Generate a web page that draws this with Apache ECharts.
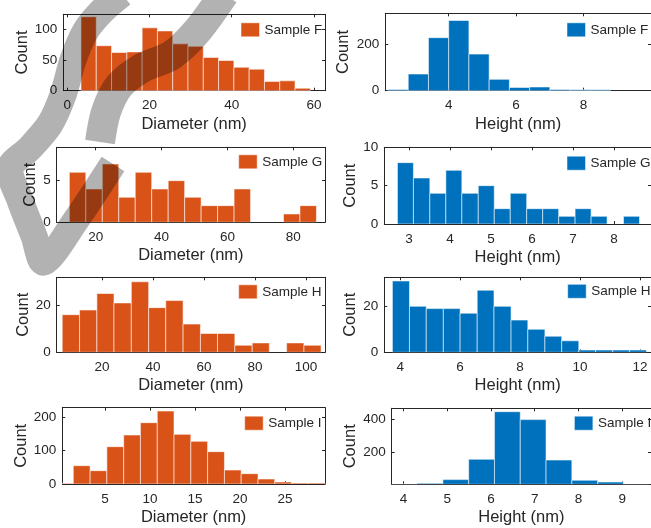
<!DOCTYPE html>
<html>
<head>
<meta charset="utf-8">
<script src="https://cdn.jsdelivr.net/npm/echarts@6/dist/echarts.min.js"></script>
<style>
html,body{margin:0;padding:0;background:#fff;}
#chart{width:651px;height:528px;}
</style>
</head>
<body>
<div id="chart"></div>
<script>
// ---------- data (bin edges and counts) ----------
const fDiamEdges  = [3.33, 7.05, 10.77, 14.49, 18.21, 21.93, 25.65, 29.37, 33.09, 36.81, 40.53, 44.25, 47.97, 51.69, 55.41, 59.13];
const fDiamCounts = [120, 73, 62, 63, 102, 97, 76, 72, 54, 49, 38, 35, 15, 16, 4];
const fHeightEdges  = [2.2, 2.8, 3.4, 4.0, 4.6, 5.2, 5.8, 6.4, 7.0, 7.6, 8.2, 8.8];
const fHeightCounts = [5, 72, 229, 303, 158, 49, 14, 16, 5, 4, 4];

const gDiamEdges  = [12, 17, 22, 27, 32, 37, 42, 47, 52, 57, 62, 67, 72, 77, 82, 87];
const gDiamCounts = [6, 4, 7, 3, 6, 4, 5, 3, 2, 2, 4, 0, 0, 1, 2];
const gHeightEdges  = [2.72, 3.11, 3.51, 3.90, 4.29, 4.69, 5.08, 5.47, 5.87, 6.26, 6.65, 7.05, 7.44, 7.83, 8.23, 8.62];
const gHeightCounts = [8, 6, 4, 7, 4, 5, 2, 4, 2, 2, 1, 2, 1, 0, 1];

const hDiamEdges  = [4.4, 11.2, 18.0, 24.7, 31.5, 38.3, 45.0, 51.8, 58.6, 65.3, 72.1, 78.9, 85.6, 92.4, 99.2, 105.9];
const hDiamCounts = [16, 18, 25, 21, 30, 19, 22, 12, 8, 8, 3, 4, 0, 4, 3];
const hHeightEdges  = [3.74, 4.31, 4.87, 5.44, 6.00, 6.57, 7.13, 7.70, 8.26, 8.83, 9.39, 9.96, 10.52, 11.09, 11.65, 12.22];
const hHeightCounts = [31, 20, 19, 19, 17, 27, 20, 14, 10, 7, 5, 1, 1, 1, 1];

const iDiamEdges  = [-0.39, 1.48, 3.35, 5.21, 7.08, 8.94, 10.81, 12.67, 14.54, 16.40, 18.27, 20.13, 22.00, 23.86, 25.73, 27.59, 29.46];
const iDiamCounts = [2, 55, 40, 112, 147, 184, 219, 149, 128, 97, 42, 31, 15, 6, 3, 3];
const iHeightEdges  = [3.72, 4.31, 4.90, 5.49, 6.08, 6.67, 7.26, 7.85, 8.44, 9.03, 9.62];
const iHeightCounts = [1, 6, 29, 155, 449, 400, 150, 25, 14, 2];

const sampleNames = ['Sample F', 'Sample G', 'Sample H', 'Sample I'];
const diamLabel = 'Diameter (nm)';
const heightLabel = 'Height (nm)';
const countLabel = 'Count';

// tick values
const xTicks = [[0, 20, 40, 60], [4, 6, 8], [20, 40, 60, 80], [3, 4, 5, 6, 7, 8], [20, 40, 60, 80, 100], [4, 6, 8, 10, 12], [5, 10, 15, 20, 25], [4, 5, 6, 7, 8, 9]];
const yTicks = [[0, 50, 100], [0, 200], [0, 5], [0, 5, 10], [0, 20], [0, 20], [0, 100, 200], [200, 400]];

// ---------- layout (pixels) ----------
const ORANGE = '#D95319', BLUE = '#0072BD', INK = '#262626';
const FONT = 'Liberation Sans, Arial, Helvetica, sans-serif';
const panels = [
  {edges: fDiamEdges,   counts: fDiamCounts,   name: sampleNames[0], xname: diamLabel,   color: ORANGE, grid: {left: 63.3,  top: 14.3,  width: 261.7, height: 76.4}, xr: [-0.97, 62.7], yr: [0, 124], ygap: 31, leg: [240.5, 22.3]},
  {edges: fHeightEdges, counts: fHeightCounts, name: sampleNames[0], xname: heightLabel, color: BLUE,   grid: {left: 385.3, top: 13.3,  width: 270,   height: 77.4}, xr: [2.12, 10.0],  yr: [0, 334], ygap: 33, leg: [566.5, 22.3]},
  {edges: gDiamEdges,   counts: gDiamCounts,   name: sampleNames[1], xname: diamLabel,   color: ORANGE, grid: {left: 56.7,  top: 147.3, width: 268.3, height: 75},   xr: [8.16, 89.6],  yr: [0, 9],   ygap: 15, leg: [238.2, 154.3]},
  {edges: gHeightEdges, counts: gHeightCounts, name: sampleNames[1], xname: heightLabel, color: BLUE,   grid: {left: 384.3, top: 147.3, width: 270.4, height: 76.7}, xr: [2.4, 8.9],    yr: [0, 10],  ygap: 24, leg: [566.5, 155.7]},
  {edges: hDiamEdges,   counts: hDiamCounts,   name: sampleNames[2], xname: diamLabel,   color: ORANGE, grid: {left: 56.7,  top: 277.3, width: 268.3, height: 75},   xr: [2.24, 107.45], yr: [0, 31.9], ygap: 25, leg: [238.2, 284.3]},
  {edges: hHeightEdges, counts: hHeightCounts, name: sampleNames[2], xname: heightLabel, color: BLUE,   grid: {left: 384.3, top: 277.3, width: 270,   height: 75},   xr: [3.47, 12.37], yr: [0, 32.6], ygap: 24, leg: [567.2, 283.8]},
  {edges: iDiamEdges,   counts: iDiamCounts,   name: sampleNames[3], xname: diamLabel,   color: ORANGE, grid: {left: 62.3,  top: 407.7, width: 262.7, height: 76.3}, xr: [0.26, 29.44], yr: [0, 229], ygap: 32, leg: [244.2, 415.7]},
  {edges: iHeightEdges, counts: iHeightCounts, name: sampleNames[3], xname: heightLabel, color: BLUE,   grid: {left: 391.7, top: 408.3, width: 263,   height: 76},   xr: [3.73, 9.66],  yr: [0, 470], ygap: 33, leg: [573.9, 415.7]}
];

const grid = [], xAxis = [], yAxis = [], series = [], legend = [];
const labelStyle = {color: INK, fontSize: 13.5, fontFamily: FONT};
const nameStyle = {color: INK, fontSize: 16.5, fontFamily: FONT};
const lineStyle = {color: INK, width: 1};

panels.forEach((p, i) => {
  grid.push(Object.assign({show: false, containLabel: false}, p.grid));
  const common = (isX, pos, withLabels) => ({
    type: 'value', gridIndex: i, position: pos,
    min: isX ? p.xr[0] : p.yr[0], max: isX ? p.xr[1] : p.yr[1],
    axisLine: {show: true, onZero: false, lineStyle},
    axisTick: {show: true, inside: true, length: 3, lineStyle, customValues: isX ? xTicks[i] : yTicks[i]},
    axisLabel: {show: withLabels, customValues: isX ? xTicks[i] : yTicks[i], margin: isX ? 8 : 6, ...labelStyle},
    splitLine: {show: false}
  });
  const xb = common(true, 'bottom', true);
  xb.name = p.xname; xb.nameLocation = 'middle'; xb.nameGap = 25; xb.nameTextStyle = nameStyle;
  xAxis.push(xb, common(true, 'top', false));
  const yl = common(false, 'left', true);
  yl.name = countLabel; yl.nameLocation = 'middle'; yl.nameGap = p.ygap; yl.nameTextStyle = nameStyle;
  yAxis.push(yl, common(false, 'right', false));

  const data = p.counts.map((c, k) => [p.edges[k], p.edges[k + 1], c]);
  series.push({
    type: 'custom', name: p.name, xAxisIndex: 2 * i, yAxisIndex: 2 * i, clip: true,
    itemStyle: {color: p.color},
    encode: {x: [0, 1], y: 2},
    data,
    renderItem: (params, api) => {
      const x0 = api.value(0), x1 = api.value(1), v = api.value(2);
      if (v <= 0) return null;
      const a = api.coord([x0, v]), b = api.coord([x1, 0]);
      const cs = params.coordSys;
      const l = Math.max(a[0], cs.x), r = Math.min(b[0], cs.x + cs.width);
      if (r <= l) return null;
      return {type: 'rect', shape: {x: l, y: a[1], width: r - l, height: b[1] - a[1]},
        style: {fill: p.color, stroke: 'rgba(255,255,255,0.55)', lineWidth: 1}};
    }
  });
  legend.push({
    data: [p.name], left: p.leg[0], top: p.leg[1], padding: 0,
    itemWidth: 18.5, itemHeight: 14, icon: 'rect',
    textStyle: {color: INK, fontSize: 13.5, fontFamily: FONT},
    itemStyle: {color: p.color, borderColor: 'rgba(255,255,255,0.5)', borderWidth: 1},
    selectedMode: false
  });
});

// grey watermark that lies over the upper-left of the figure (each stroke drawn once, so overlaps don't darken)
const WM = '#b2b2b2';
const wmStroke = (pts, w) => ({type: 'polyline', z: 100, silent: true, shape: {points: pts, smooth: 0.3},
  style: {stroke: WM, fill: null, lineWidth: w, blend: 'multiply', lineCap: 'butt', lineJoin: 'round'}});
const graphic = [
  wmStroke([[122, -6], [101, 12], [85, 32], [73, 60], [63, 95], [50, 124], [30, 148], [10, 168],
            [20, 200], [34, 236], [44, 262], [76, 220], [113, 164]], 27),
  wmStroke([[224, -6], [198, 30], [172, 55], [142, 68], [119, 86], [106, 112], [100, 142]], 30)
];

const chart = echarts.init(document.getElementById('chart'), null, {renderer: 'canvas'});
chart.setOption({
  animation: false,
  backgroundColor: '#fff',
  textStyle: {fontFamily: FONT},
  grid, xAxis, yAxis, series, legend, graphic
});
</script>
</body>
</html>
